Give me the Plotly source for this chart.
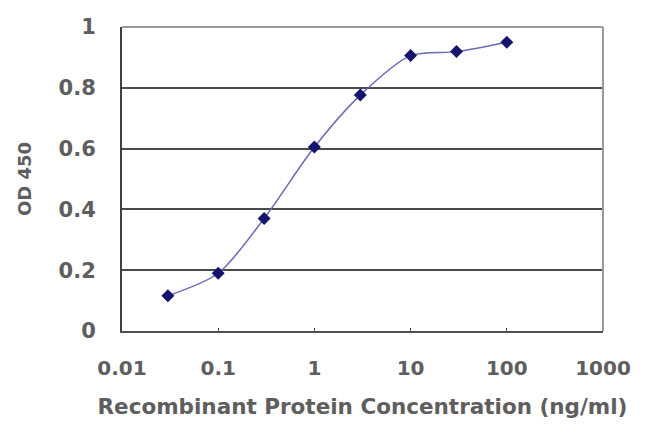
import plotly.graph_objects as go

conc = [0.03, 0.1, 0.3, 1, 3, 10, 30, 100]
od450 = [0.116, 0.19, 0.37, 0.605, 0.776, 0.906, 0.919, 0.95]
x_ticks = [0.01, 0.1, 1, 10, 100, 1000]
x_tick_labels = ["0.01", "0.1", "1", "10", "100", "1000"]
y_ticks = [0, 0.2, 0.4, 0.6, 0.8, 1]
y_tick_labels = ["0", "0.2", "0.4", "0.6", "0.8", "1"]

fig = go.Figure()
fig.add_trace(go.Scatter(
    x=conc, y=od450, mode="lines+markers",
    line=dict(color="#6b6bb5", width=1.5, shape="spline", smoothing=0.8),
    marker=dict(symbol="diamond", size=10, color="#14146e"),
    showlegend=False,
))

font_family = "DejaVu Sans, sans-serif"
txt = "#5e5e5e"
fig.update_layout(
    width=650, height=434,
    margin=dict(l=122, r=47, t=27, b=103),
    paper_bgcolor="white", plot_bgcolor="white",
    font=dict(family=font_family, color=txt, size=20, weight="bold"),
    xaxis=dict(
        type="log", range=[-2, 3],
        tickvals=x_ticks, ticktext=x_tick_labels,
        showgrid=False, zeroline=False,
        showline=True, linecolor="#505050", linewidth=2,
        ticks="inside", ticklen=3, tickcolor="#505050",
        ticklabelstandoff=18,
        tickfont=dict(size=20, color=txt, weight="bold"),
        title=dict(text="Recombinant Protein Concentration (ng/ml)",
                   font=dict(size=21.5, color=txt, weight="bold"), standoff=20),
    ),
    yaxis=dict(
        range=[0, 1],
        tickvals=y_ticks, ticktext=y_tick_labels,
        showgrid=True, gridcolor="#4a4a4a", gridwidth=2,
        zeroline=False,
        showline=True, linecolor="#404040", linewidth=2,
        ticks="", ticklen=0,
        ticklabelstandoff=20,
        tickfont=dict(size=21, color=txt, weight="bold"),
        title=dict(text="OD 450", font=dict(size=18, color=txt, weight="bold"), standoff=22),
    ),
)
fig.add_shape(type="line", xref="paper", yref="paper", x0=0, x1=1, y0=1, y1=1,
              line=dict(color="#9a9a9a", width=2))
fig.add_shape(type="line", xref="paper", yref="paper", x0=1, x1=1, y0=0, y1=1,
              line=dict(color="#9a9a9a", width=2))

fig.write_html("out.html", config={"displayModeBar": False},
               post_script="document.body.style.margin='0px';document.body.style.overflow='hidden';")
